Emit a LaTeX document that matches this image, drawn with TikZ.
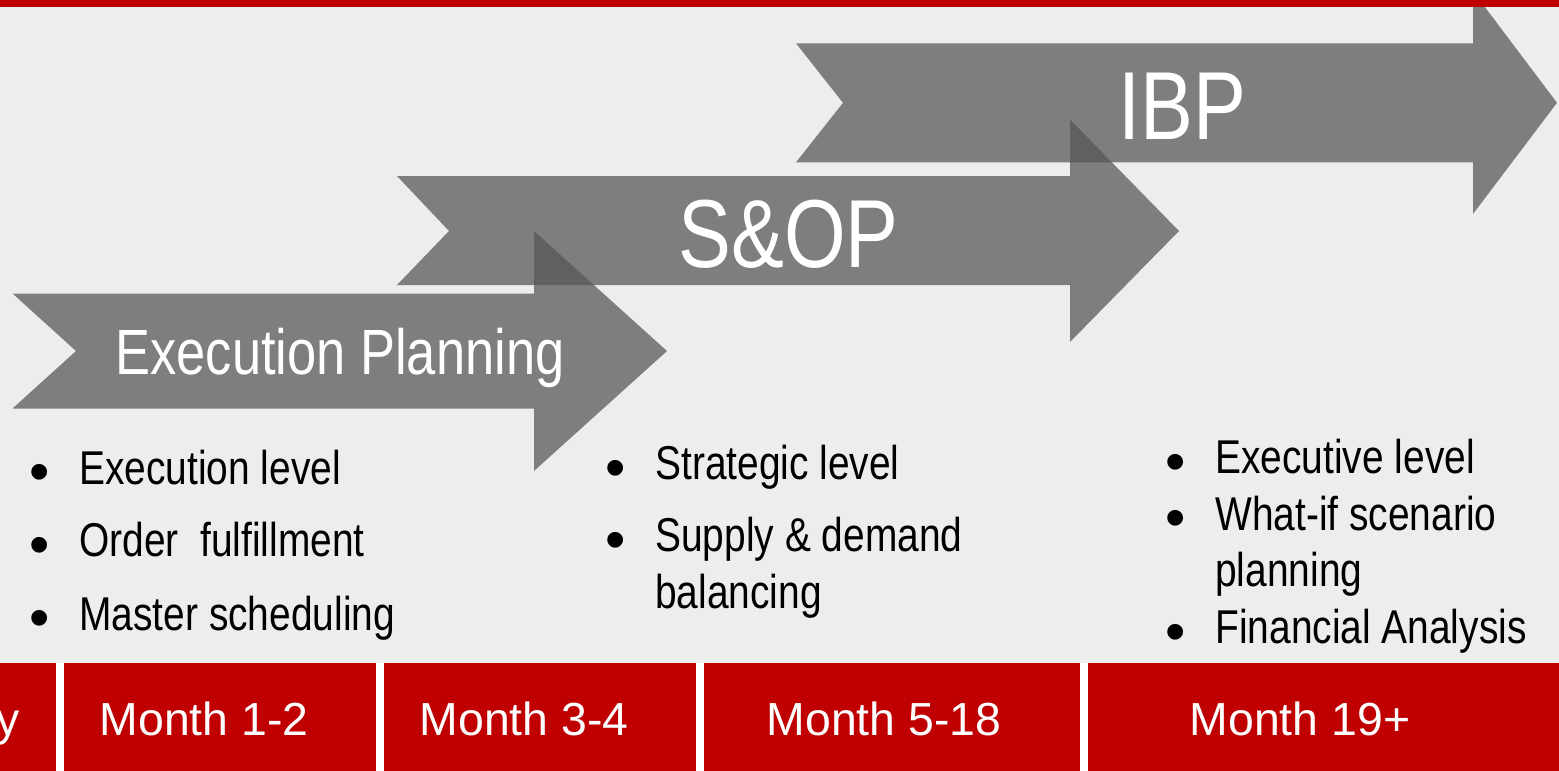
\documentclass[tikz,border=0pt]{standalone}
\usepackage{fontspec}
\setmainfont{Liberation Sans}
\newfontfamily\narrowfont{Liberation Sans}[FakeStretch=0.82]
\usepackage{tikz}
\usetikzlibrary{positioning}

\definecolor{deepred}{HTML}{C00000}
\definecolor{paper}{HTML}{EDEDED}
\definecolor{band}{HTML}{565656}

\tikzstyle{phase} = [fill=band, fill opacity=0.73]
\tikzstyle{title} = [anchor=base, inner sep=0pt, text=white]
\tikzstyle{point} = [anchor=base west, inner sep=0pt, font=\narrowfont\fontsize{27}{32}\selectfont]
\tikzstyle{dot} = [anchor=base, inner sep=0pt, yshift=-4.5pt, font=\fontsize{33}{38}\selectfont]
\tikzstyle{month} = [anchor=base, inner sep=0pt, text=white, font=\fontsize{26.4}{30}\selectfont]

\begin{document}
\begin{tikzpicture}[x=0.02cm, y=-0.02cm]
  \useasboundingbox (0,0) rectangle (1559,771);
  \clip (0,0) rectangle (1559,771);
  \fill[paper] (0,0) rectangle (1559,771);

  % Ba mũi tên giai đoạn
  \fill[phase] (12.5,293.5) -- (534,293.5) -- (534,231) -- (667,351) -- (534,471)
    -- (534,408.5) -- (12.5,408.5) -- (76,351) -- cycle;
  \fill[phase] (397,176) -- (1070,176) -- (1070,119.5) -- (1179,231) -- (1070,342)
    -- (1070,285) -- (397,285) -- (449,231) -- cycle;
  \fill[phase] (796,43.3) -- (1473,43.3) -- (1473,-8.7) -- (1557,102.8) -- (1473,214)
    -- (1473,162.3) -- (796,162.3) -- (843,102.8) -- cycle;

  \node[title, font=\narrowfont\fontsize{36.4}{40}\selectfont] (ep) at (340,374.3) {Execution Planning};
  \node[title, font=\narrowfont\fontsize{55}{60}\selectfont] (sop) at (788.5,267.3) {S\&OP};
  \node[title, font=\narrowfont\fontsize{55}{60}\selectfont] (ibp) at (1182.5,139) {IBP};

  % Cột trái
  \node[dot] (d1) at (40,484) {•};
  \node[point] (e1) at (79,484) {Execution level};
  \node[dot] (d2) at (40,556.7) {•};
  \node[point] (e2) at (79,556.7) {Order\ \ fulfillment};
  \node[dot] (d3) at (40,630) {•};
  \node[point] (e3) at (79,630) {Master scheduling};

  % Cột giữa
  \node[dot] (d4) at (615.7,479.3) {•};
  \node[point] (s1) at (655,479.3) {Strategic level};
  \node[dot] (d5) at (615.7,551.7) {•};
  \node[point] (s2) at (655,551.7) {Supply \& demand};
  \node[point] (s2b) at (655,608.3) {balancing};

  % Cột phải
  \node[dot] (d6) at (1175.7,473.3) {•};
  \node[point] (x1) at (1215,473.3) {Executive level};
  \node[dot] (d7) at (1175.7,530) {•};
  \node[point] (x2) at (1215,530) {What-if scenario};
  \node[point] (x2b) at (1215,586.7) {planning};
  \node[dot] (d8) at (1175.7,643.3) {•};
  \node[point] (x3) at (1215,643.3) {Financial Analysis};

  % Thanh đỏ và các ô tháng
  \fill[deepred] (0,0) rectangle (1559,7);
  \fill[white] (0,663) rectangle (1559,771);
  \fill[deepred] (0,663) rectangle (56,771);
  \fill[deepred] (64,663) rectangle (376,771);
  \fill[deepred] (384,663) rectangle (696,771);
  \fill[deepred] (704,663) rectangle (1080,771);
  \fill[deepred] (1088,663) rectangle (1559,771);

  \node[month, anchor=base east] (m0) at (20,735) {y};
  \node[month] (m1) at (204,735) {Month 1-2};
  \node[month] (m2) at (524,735) {Month 3-4};
  \node[month] (m3) at (884,735) {Month 5-18};
  \node[month] (m4) at (1300,735) {Month 19+};
\end{tikzpicture}
\end{document}
